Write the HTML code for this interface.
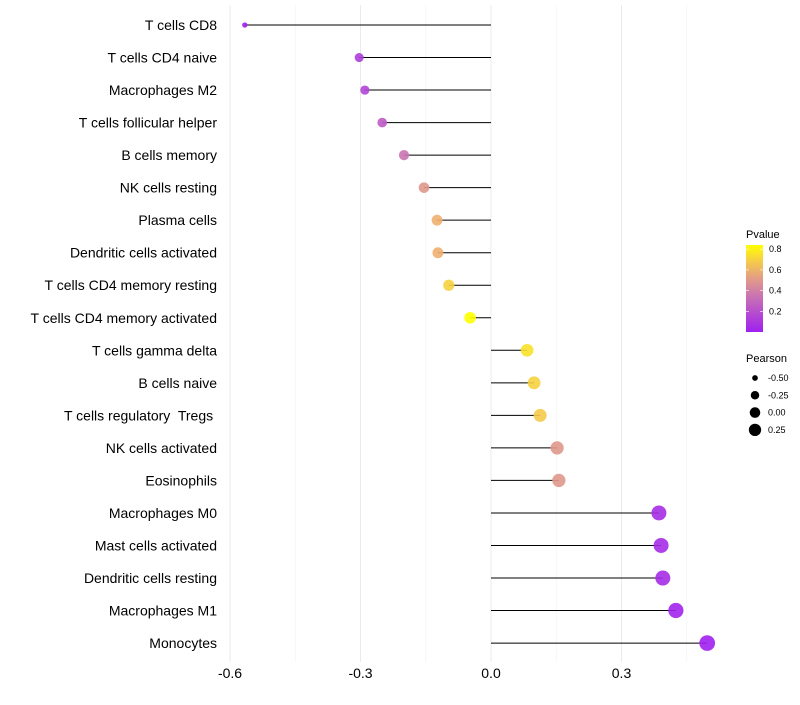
<!DOCTYPE html>
<html><head><meta charset="utf-8"><style>
body{margin:0;background:#fff;font-family:"Liberation Sans",sans-serif}
text{white-space:pre}
</style></head><body>
<svg id="c" width="800" height="700" xmlns="http://www.w3.org/2000/svg" font-family="Liberation Sans, sans-serif"></svg>
<script>
const categories=["T cells CD8","T cells CD4 naive","Macrophages M2","T cells follicular helper","B cells memory","NK cells resting","Plasma cells","Dendritic cells activated","T cells CD4 memory resting","T cells CD4 memory activated","T cells gamma delta","B cells naive","T cells regulatory  Tregs ","NK cells activated","Eosinophils","Macrophages M0","Mast cells activated","Dendritic cells resting","Macrophages M1","Monocytes"];
const pearson=[-0.566,-0.303,-0.29,-0.25,-0.2,-0.154,-0.124,-0.122,-0.097,-0.048,0.083,0.099,0.113,0.152,0.156,0.386,0.391,0.395,0.425,0.497];
const pvalues=[0.0,0.12,0.15,0.25,0.35,0.5,0.6,0.6,0.7,0.85,0.75,0.7,0.68,0.5,0.5,0.05,0.05,0.05,0.02,0.0];
const xTicks=[-0.6,-0.3,0.0,0.3];
const xTickLabels=["-0.6","-0.3","0.0","0.3"];
const sizeLegend=[-0.5,-0.25,0.0,0.25];
const pLegendTicks=[0.2,0.4,0.6,0.8];

const NS="http://www.w3.org/2000/svg";
const svg=document.getElementById('c');
function el(t,a,p){const e=document.createElementNS(NS,t);for(const k in a)e.setAttribute(k,a[k]);(p||svg).appendChild(e);return e;}
const x=v=>491+v*435;
const y=i=>25+i*32.53;
const r=v=>Math.sqrt(Math.max(31+44*v,2));
function col(p){
  const stops=[[0,[160,32,240]],[0.4,[208,128,168]],[0.6,[240,176,112]],[0.84,[255,255,0]]];
  p=Math.min(Math.max(p,0),0.84);
  for(let i=0;i<stops.length-1;i++){const[a,ca]=stops[i],[b,cb]=stops[i+1];
    if(p<=b){const t=(p-a)/(b-a);return `rgb(${ca.map((c,j)=>Math.round(c+(cb[j]-c)*t)).join(',')})`;}}
  return 'rgb(255,255,0)';
}
[-0.45,-0.15,0.15,0.45].forEach(v=>{const g=el('line',{x1:x(v),x2:x(v),y1:5,y2:662,stroke:'#f2f2f2','stroke-width':0.7});
});
xTicks.forEach((v,i)=>{const g=el('line',{x1:x(v),x2:x(v),y1:5,y2:662,stroke:'#ebebeb','stroke-width':1});

const t=el('text',{x:x(v),y:678,'text-anchor':'middle','font-size':14,fill:'#000'});t.textContent=xTickLabels[i];
});
categories.forEach((c,i)=>{
  const t=el('text',{x:217,y:y(i)+5,'text-anchor':'end','font-size':14,fill:'#000'});t.textContent=c;
  
  const l=el('line',{x1:x(0),x2:x(pearson[i]),y1:y(i),y2:y(i),stroke:'#000','stroke-width':1});
  
  const p=el('circle',{cx:x(pearson[i]),cy:y(i),r:r(pearson[i])*1.08,fill:col(pvalues[i]),'fill-opacity':0.9});
  
});
const defs=el('defs',{});const lg=el('linearGradient',{id:'pg',x1:0,y1:1,x2:0,y2:0},defs);
[0,0.2,0.4,0.6,0.8,1].forEach(f=>el('stop',{offset:f,'stop-color':col(f*0.84)},lg));
const pt=el('text',{x:746,y:238,'font-size':11});pt.textContent='Pvalue';

const bar=el('rect',{x:746,y:245,width:17,height:87,fill:'url(#pg)'});

const py=v=>332-v*103.5;
pLegendTicks.forEach(v=>{
  el('line',{x1:746,x2:749,y1:py(v),y2:py(v),stroke:'#fff','stroke-width':0.6});
  el('line',{x1:760,x2:763,y1:py(v),y2:py(v),stroke:'#fff','stroke-width':0.6});
  const t=el('text',{x:769,y:py(v)+3,'font-size':9});t.textContent=v.toFixed(1);
  
});
const st=el('text',{x:746,y:362,'font-size':11});st.textContent='Pearson';

sizeLegend.forEach((v,i)=>{
  const cy=378+i*17.3;
  const c=el('circle',{cx:755,cy:cy,r:r(v)*0.95,fill:'#000'});
  
  const t=el('text',{x:768,y:cy+3,'font-size':9});t.textContent=v.toFixed(2);
  
});
</script>
</body></html>
